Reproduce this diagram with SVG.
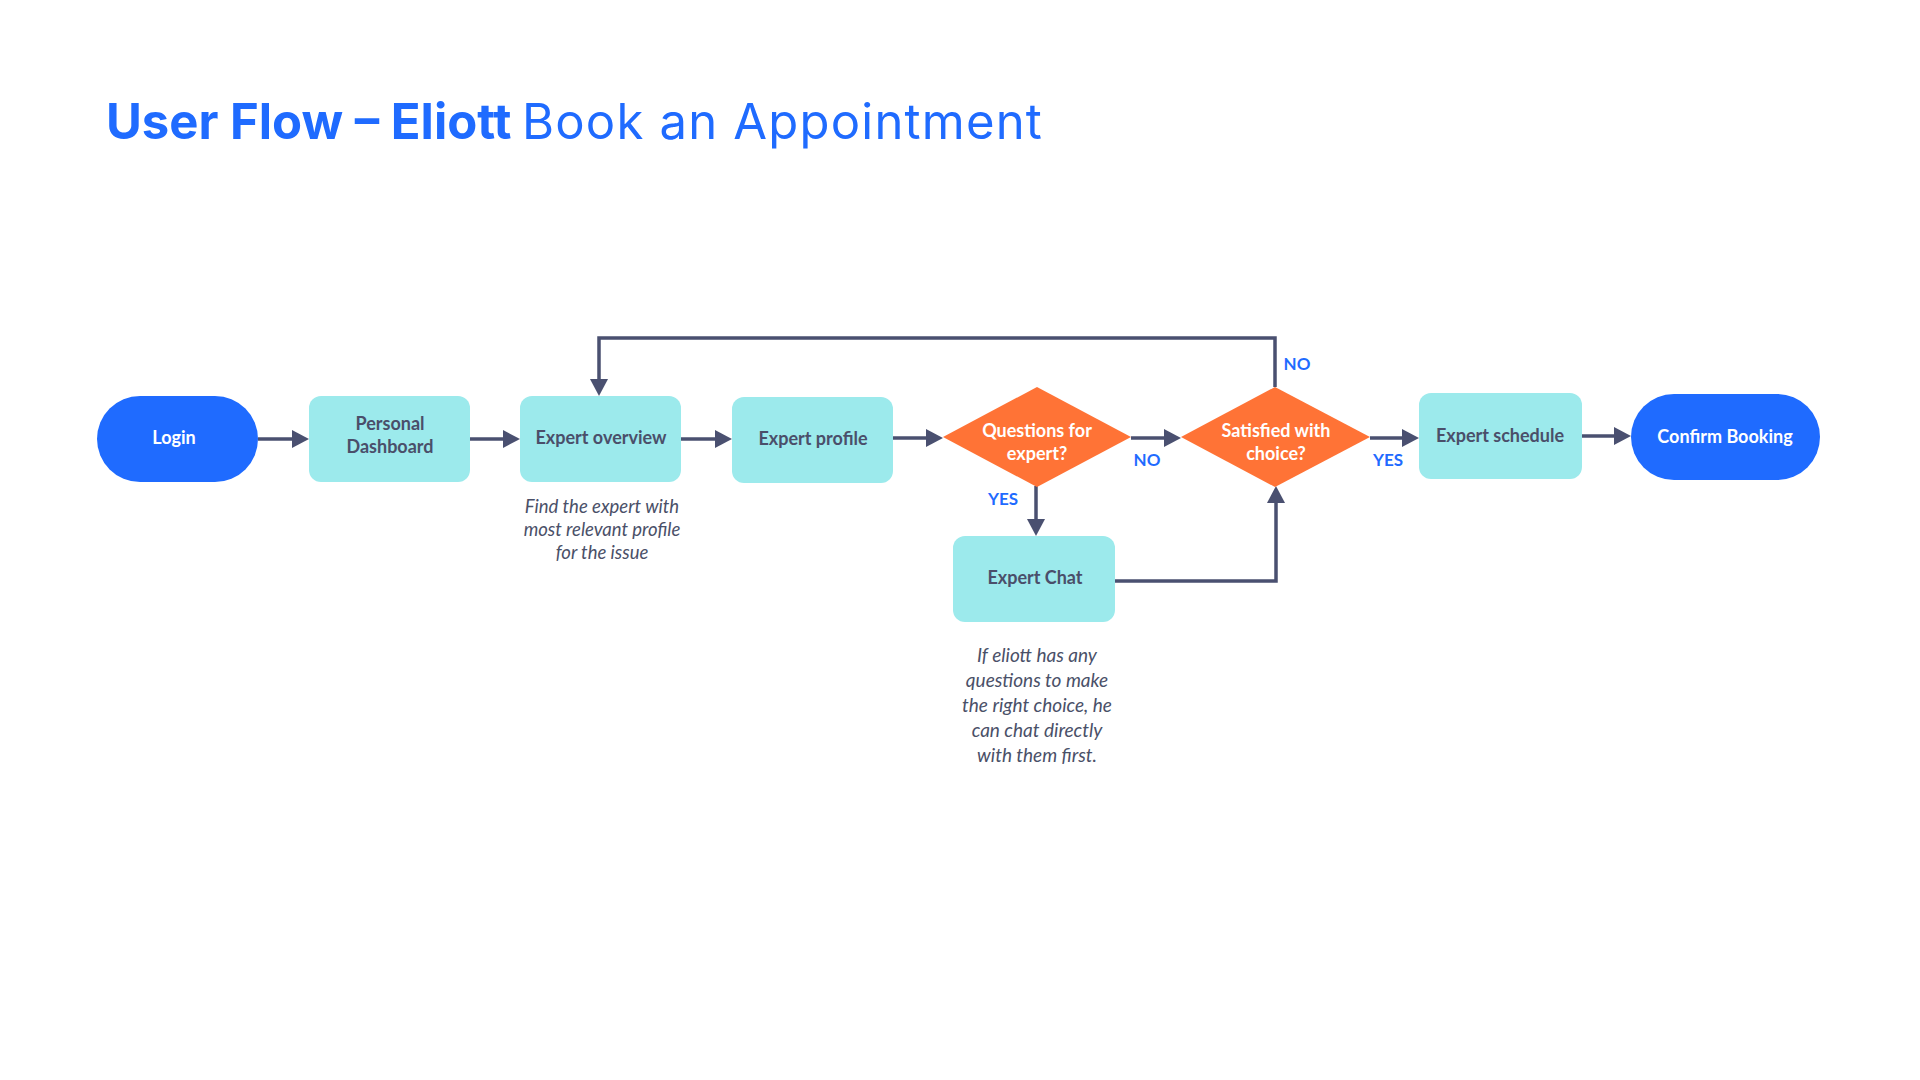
<svg xmlns="http://www.w3.org/2000/svg" width="1920" height="1080" viewBox="0 0 1920 1080">
<defs>
<marker id="arr" markerUnits="userSpaceOnUse" markerWidth="18" markerHeight="20" refX="7" refY="9" orient="auto">
<path d="M0,0 L17,9 L0,18 Z" fill="#4a5070"/>
</marker>
<style>
.title{font-family:Inter,"Liberation Sans",sans-serif;font-size:49px;fill:#1f6bff}
.pill{fill:#1f6bff}
.box{fill:#9ceaec}
.dia{fill:#ff7336}
.t{font-family:Lato,"Liberation Sans",sans-serif;font-size:18px;font-weight:700;text-anchor:middle}
.dark{fill:#4a4f6a}
.white{fill:#ffffff}
.note{font-family:Lato,"Liberation Sans",sans-serif;font-style:italic;fill:#4a5068;text-anchor:middle}
.n1{font-size:18.5px}
.n2{font-size:19px}
.lbl{font-family:Lato,"Liberation Sans",sans-serif;font-size:17px;font-weight:700;fill:#1f6bff;text-anchor:middle}
.c{fill:none;stroke:#4a5070;stroke-width:3.5}
</style>
</defs>
<rect width="1920" height="1080" fill="#ffffff"/>
<text class="title" x="106" y="139" font-weight="700">User Flow – Eliott</text>
<text class="title" x="522" y="139" font-weight="400" letter-spacing="1.2">Book an Appointment</text>

<g id="connectors">
<path class="c" d="M258,439 H299" marker-end="url(#arr)"/>
<path class="c" d="M470,439 H510" marker-end="url(#arr)"/>
<path class="c" d="M681,439 H722" marker-end="url(#arr)"/>
<path class="c" d="M893,438 H933" marker-end="url(#arr)"/>
<path class="c" d="M1131,438 H1171" marker-end="url(#arr)"/>
<path class="c" d="M1370,438 H1409" marker-end="url(#arr)"/>
<path class="c" d="M1582,436 H1621" marker-end="url(#arr)"/>
<path class="c" d="M1036,486 V526" marker-end="url(#arr)"/>
<path class="c" d="M1115,581 H1276 V496" marker-end="url(#arr)"/>
<path class="c" d="M1275,387 V338 H599 V386" marker-end="url(#arr)"/>
<text class="lbl" x="1147" y="466">NO</text>
<text class="lbl" x="1297" y="370">NO</text>
<text class="lbl" x="1003" y="505">YES</text>
<text class="lbl" x="1388" y="466">YES</text>
</g>

<g id="login">
<rect class="pill" x="97" y="396" width="161" height="86" rx="43"/>
<text class="t white" x="174" y="444">Login</text>
</g>
<g id="personal-dashboard">
<rect class="box" x="309" y="396" width="161" height="86" rx="12"/>
<text class="t dark" x="390" y="430">Personal</text>
<text class="t dark" x="390" y="453">Dashboard</text>
</g>
<g id="expert-overview">
<rect class="box" x="520" y="396" width="161" height="86" rx="12"/>
<text class="t dark" x="601" y="444">Expert overview</text>
<text class="note n1" x="602" y="513">Find the expert with</text>
<text class="note n1" x="602" y="536">most relevant profile</text>
<text class="note n1" x="602" y="559">for the issue</text>
</g>
<g id="expert-profile">
<rect class="box" x="732" y="397" width="161" height="86" rx="12"/>
<text class="t dark" x="813" y="445">Expert profile</text>
</g>
<g id="questions-for-expert">
<polygon class="dia" points="1037,387 1131,437 1037,487 943,437"/>
<text class="t white" x="1037" y="437">Questions for</text>
<text class="t white" x="1037" y="460">expert?</text>
</g>
<g id="satisfied-with-choice">
<polygon class="dia" points="1275,387 1370,437 1275,487 1181,437"/>
<text class="t white" x="1276" y="437">Satisfied with</text>
<text class="t white" x="1276" y="460">choice?</text>
</g>
<g id="expert-chat">
<rect class="box" x="953" y="536" width="162" height="86" rx="12"/>
<text class="t dark" x="1035" y="584">Expert Chat</text>
<text class="note n2" x="1037" y="662">If eliott has any</text>
<text class="note n2" x="1037" y="687">questions to make</text>
<text class="note n2" x="1037" y="712">the right choice, he</text>
<text class="note n2" x="1037" y="737">can chat directly</text>
<text class="note n2" x="1037" y="762">with them first.</text>
</g>
<g id="expert-schedule">
<rect class="box" x="1419" y="393" width="163" height="86" rx="12"/>
<text class="t dark" x="1500" y="442">Expert schedule</text>
</g>
<g id="confirm-booking">
<rect class="pill" x="1631" y="394" width="189" height="86" rx="43"/>
<text class="t white" x="1725" y="443">Confirm Booking</text>
</g>
</svg>
